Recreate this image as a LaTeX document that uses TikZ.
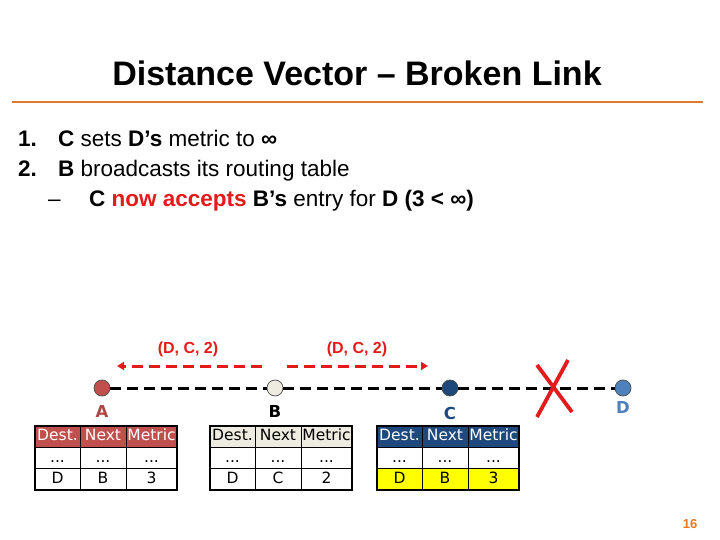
\documentclass[tikz,border=0pt]{standalone}
\usepackage{fontspec}
\setmainfont{Liberation Sans}
\newfontfamily\tabfont{DejaVu Sans}
\usetikzlibrary{arrows.meta,positioning}
\definecolor{dvorange}{HTML}{E07A2E}
\definecolor{dvred}{HTML}{E31B1B}
\definecolor{dvrouta}{HTML}{C0504D}
\definecolor{dvroutb}{HTML}{EEECE1}
\definecolor{dvroutc}{HTML}{1F497D}
\definecolor{dvroutd}{HTML}{4F81BD}
\definecolor{dvyellow}{HTML}{FFFF00}
\tikzset{
  router/.style={circle, draw=black!70, fill=#1, minimum size=16pt, inner sep=0pt, line width=0.7pt},
  rlabel/.style={font=\tabfont\bfseries\fontsize{16.5}{16.5}\selectfont},
  body/.style={anchor=base west, inner sep=0pt, font=\fontsize{22.5}{27}\selectfont},
  link/.style={line width=3pt, dash pattern=on 11pt off 6pt},
  bcast/.style={-{Triangle[length=7pt,width=8pt]}, dvred, line width=3pt, dash pattern=on 11pt off 6pt},
  upd/.style={text=dvred, font=\bfseries\fontsize{16}{16}\selectfont},
  cell/.style={draw, line width=0.8pt, minimum height=21.3pt, inner sep=0pt, text height=11.5pt, text depth=3pt, font=\tabfont\fontsize{15.5}{15.5}\selectfont},
  cut/.style={dvred, line width=3.8pt},
}
% routing table: name, left edge, header fill, header text, last row fill, next hop, metric
\newcommand{\rtable}[7]{%
  \foreach \k/\w/\dx/\hd/\lst in {1/45/0/Dest./D,2/46/45/Next/#6,3/51/91/Metric/#7}{
    \node[cell, minimum width=\w pt, fill=#3, text=#4] (#1-h\k) at (#2+\dx+\w/2, 436.6) {\hd};
    \node[cell, minimum width=\w pt] (#1-m\k) at (#2+\dx+\w/2, 457.9) {...};
    \node[cell, minimum width=\w pt, fill=#5] (#1-l\k) at (#2+\dx+\w/2, 479.2) {\lst};
  }
  \draw[line width=2pt] (#1-h1.north west) rectangle (#1-l3.south east);
}

\begin{document}
\begin{tikzpicture}[x=1pt,y=-1pt]
  \useasboundingbox (0,0) rectangle (720,540);
  % title
  \node[font=\bfseries\fontsize{34}{34}\selectfont] (title) at (357,73) {Distance Vector – Broken Link};
  \draw[dvorange, line width=2.5pt] (12,102) -- (703,102);
  % bullets
  \node[body, font=\bfseries\fontsize{22.5}{27}\selectfont] (num1) at (18,147) {1.};
  \node[body] (item1) at (58,147) {\textbf{C} sets \textbf{D’s} metric to \textbf{∞}};
  \node[body, font=\bfseries\fontsize{22.5}{27}\selectfont] (num2) at (18,177) {2.};
  \node[body] (item2) at (58,177) {\textbf{B} broadcasts its routing table};
  \node[body] (dash3) at (48,207) {–};
  \node[body] (item3) at (89,207) {\textbf{C} \textbf{\color{dvred}now accepts} \textbf{B’s} entry for \textbf{D (3 < ∞)}};

  % routers
  \node[router=dvrouta] (A) at (102,388) {};
  \node[router=dvroutb] (B) at (275,388) {};
  \node[router=dvroutc] (C) at (450,388) {};
  \node[router=dvroutd] (D) at (623,388) {};
  \draw[link] (A) -- (B);
  \draw[link] (B) -- (C);
  \draw[link] (C) -- (D);
  \node[rlabel, text=dvrouta!90!black] (A-lbl) at (102,411) {A};
  \node[rlabel] (B-lbl) at (275,411) {B};
  \node[rlabel, text=dvroutc] (C-lbl) at (450,413) {C};
  \node[rlabel, text=dvroutd] (D-lbl) at (623,407) {D};

  % broken link
  \coordinate (brk) at (553,388);
  \draw[cut] (brk) ++(-16,29) -- ++(31,-57);
  \draw[cut] (brk) ++(-16,-23) -- ++(35,47);

  % B's update
  \coordinate (bl-from) at (262,366);
  \coordinate (bl-to) at (117,366);
  \coordinate (br-from) at (287,366);
  \coordinate (br-to) at (428,366);
  \draw[bcast] (bl-from) -- (bl-to);
  \draw[bcast] (br-from) -- (br-to);
  \node[upd] (upd-l) at (188,349) {(D, C, 2)};
  \node[upd] (upd-r) at (357,349) {(D, C, 2)};

  % tables
  \rtable{ta}{35}{dvrouta}{white}{white}{B}{3}
  \rtable{tb}{210}{dvroutb}{black}{white}{C}{2}
  \rtable{tc}{377}{dvroutc}{white}{dvyellow}{B}{3}

  \node[text=dvorange, font=\bfseries\fontsize{13}{13}\selectfont] (page) at (690,524) {16};
\end{tikzpicture}
\end{document}
